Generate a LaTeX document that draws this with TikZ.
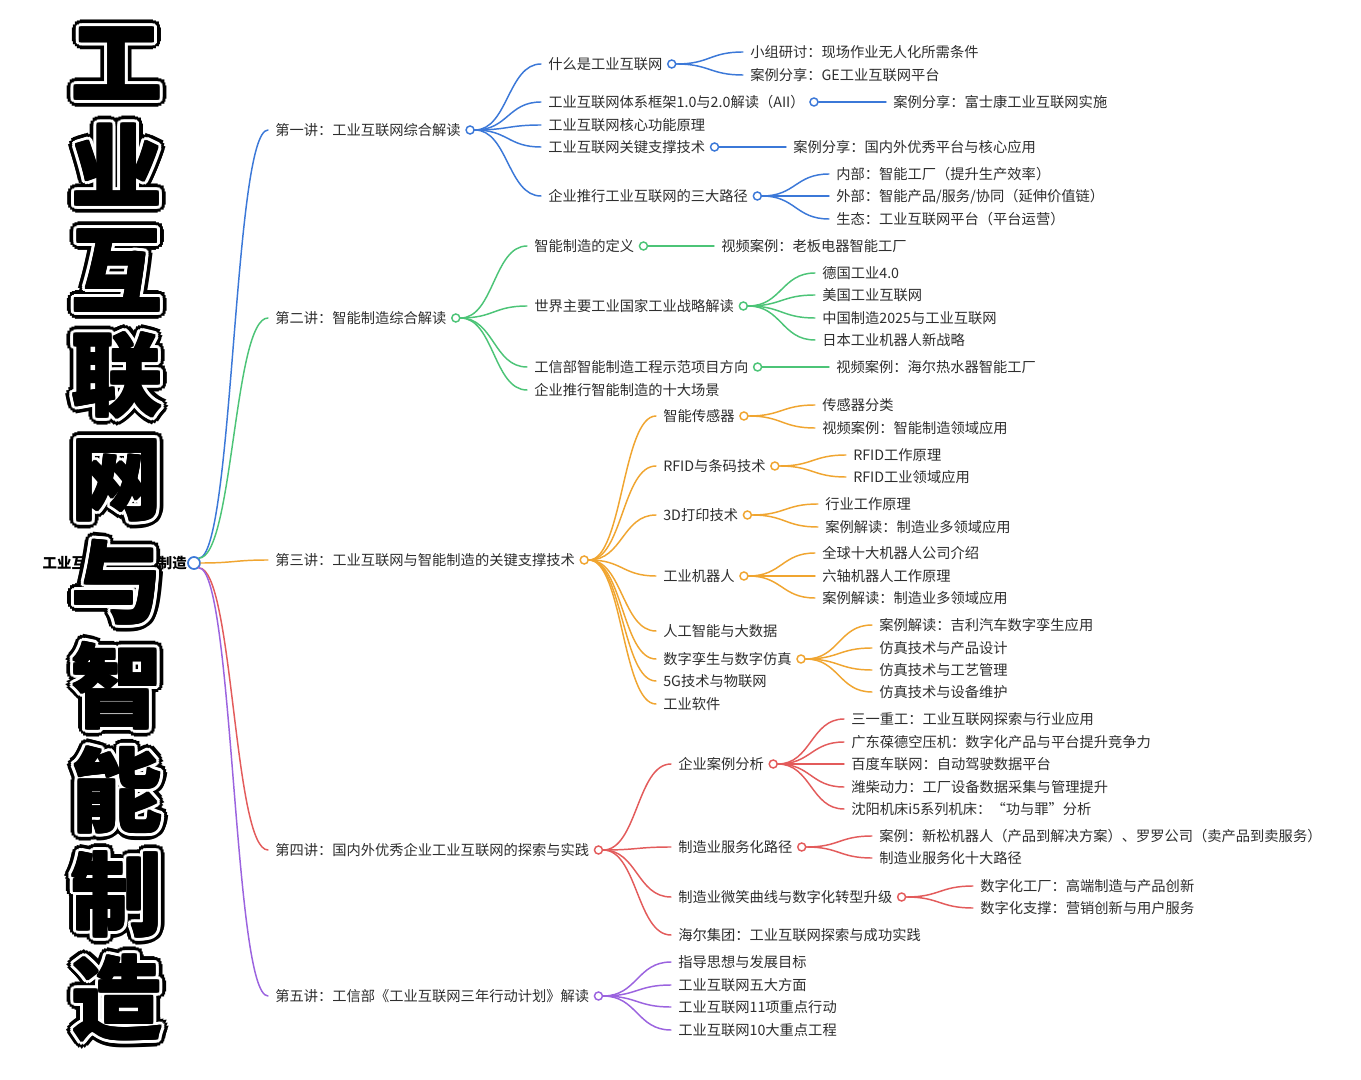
\documentclass[tikz,border=0pt]{standalone}
\usepackage{fontspec}
\usepackage{xcolor}
\usepackage{tikz}
\usetikzlibrary{calc,positioning}
\newfontfamily\cjk{Noto Sans CJK SC}
\definecolor{ink}{HTML}{2E2E2E}
\definecolor{cblue}{HTML}{3B78D8}
\definecolor{cgreen}{HTML}{4CC477}
\definecolor{corange}{HTML}{F0A530}
\definecolor{cred}{HTML}{E35B5B}
\definecolor{cpurple}{HTML}{9B63DF}
\tikzset{
  item/.style={anchor=west, inner xsep=5.25pt, inner ysep=0pt, text=ink,
    text height=9.4pt, text depth=1.3pt, font=\cjk\fontsize{10.7pt}{12pt}\selectfont},
  rootlab/.style={item, anchor=east, inner xsep=0pt, text=black,
    font=\cjk\bfseries\fontsize{10.8pt}{12pt}\selectfont},
  ring/.style={circle, draw=#1, fill=white, line width=1.1pt, minimum size=6pt, inner sep=0pt},
  link/.style={draw=#1, line width=1.1pt, line cap=round,
    to path={let \p1=(\tikztostart), \p2=(\tikztotarget) in
      .. controls ($(\p1)!0.5!(\x2,\y1)$) and ($(\p2)!0.5!(\x1,\y2)$) .. (\p2)}},
  title/.style={inner sep=0pt, text height=59.8pt, text depth=8.2pt,
    font=\cjk\bfseries\fontsize{68pt}{70pt}\selectfont},
}

\begin{document}
\begin{tikzpicture}[x=0.75pt, y=-0.75pt]
  \useasboundingbox (0,0) rectangle (1361,1080);
  \fill[white] (0,0) rectangle (1361,1080);

  % root
  \node[rootlab] (root) at (187,563) {工业互联网与智能制造};
  \node[ring=cblue, minimum size=9pt, line width=1.3pt] (rooto) at (194,563) {};

  % lectures
  \node[item] (k1) at (268,130) {第一讲：工业互联网综合解读};
  \node[item] (k2) at (268,318) {第二讲：智能制造综合解读};
  \node[item] (k3) at (268,560) {第三讲：工业互联网与智能制造的关键支撑技术};
  \node[item] (k4) at (268,850) {第四讲：国内外优秀企业工业互联网的探索与实践};
  \node[item] (k5) at (268,996) {第五讲：工信部《工业互联网三年行动计划》解读};
  \node[ring=cblue, right=-2pt of k1] (k1o) {};
  \node[ring=cgreen, right=-2pt of k2] (k2o) {};
  \node[ring=corange, right=-2pt of k3] (k3o) {};
  \node[ring=cred, right=-2pt of k4] (k4o) {};
  \node[ring=cpurple, right=-2pt of k5] (k5o) {};

  \draw[link=cblue] (rooto.north east) to (k1.west);
  \draw[link=cgreen] (rooto.north east) to (k2.west);
  \draw[link=corange] (rooto.east) to (k3.west);
  \draw[link=cred] (rooto.south east) to (k4.west);
  \draw[link=cpurple] (rooto.south east) to (k5.west);

  % branch 1
  \node[item] (b1a) at (541,64) {什么是工业互联网};
  \node[item] (b1b) at (541,102) {工业互联网体系框架1.0与2.0解读（AII）};
  \node[item] (b1c) at (541,125) {工业互联网核心功能原理};
  \node[item] (b1d) at (541,147) {工业互联网关键支撑技术};
  \node[item] (b1e) at (541,196) {企业推行工业互联网的三大路径};
  \node[ring=cblue, right=-2pt of b1a] (b1ao) {};
  \node[ring=cblue, right=-2pt of b1b] (b1bo) {};
  \node[ring=cblue, right=-2pt of b1d] (b1do) {};
  \node[ring=cblue, right=-2pt of b1e] (b1eo) {};
  \node[item] (b1a1) at (743,52) {小组研讨：现场作业无人化所需条件};
  \node[item] (b1a2) at (743,75) {案例分享：GE工业互联网平台};
  \node[item] (b1b1) at (886,102) {案例分享：富士康工业互联网实施};
  \node[item] (b1d1) at (786,147) {案例分享：国内外优秀平台与核心应用};
  \node[item] (b1e1) at (829,174) {内部：智能工厂（提升生产效率）};
  \node[item] (b1e2) at (829,196) {外部：智能产品/服务/协同（延伸价值链）};
  \node[item] (b1e3) at (829,219) {生态：工业互联网平台（平台运营）};
  \foreach \c in {b1a,b1b,b1c,b1d,b1e}
    \draw[link=cblue] (k1o.east) to (\c.west);
  \draw[link=cblue] (b1ao.east) to (b1a1.west);
  \draw[link=cblue] (b1ao.east) to (b1a2.west);
  \draw[link=cblue] (b1bo.east) to (b1b1.west);
  \draw[link=cblue] (b1do.east) to (b1d1.west);
  \foreach \c in {b1e1,b1e2,b1e3}
    \draw[link=cblue] (b1eo.east) to (\c.west);

  % branch 2
  \node[item] (b2a) at (527,246) {智能制造的定义};
  \node[item] (b2b) at (527,306) {世界主要工业国家工业战略解读};
  \node[item] (b2c) at (527,367) {工信部智能制造工程示范项目方向};
  \node[item] (b2d) at (527,390) {企业推行智能制造的十大场景};
  \node[ring=cgreen, right=-2pt of b2a] (b2ao) {};
  \node[ring=cgreen, right=-2pt of b2b] (b2bo) {};
  \node[ring=cgreen, right=-2pt of b2c] (b2co) {};
  \node[item] (b2a1) at (714,246) {视频案例：老板电器智能工厂};
  \node[item] (b2b1) at (815,273) {德国工业4.0};
  \node[item] (b2b2) at (815,295) {美国工业互联网};
  \node[item] (b2b3) at (815,318) {中国制造2025与工业互联网};
  \node[item] (b2b4) at (815,340) {日本工业机器人新战略};
  \node[item] (b2c1) at (829,367) {视频案例：海尔热水器智能工厂};
  \foreach \c in {b2a,b2b,b2c,b2d}
    \draw[link=cgreen] (k2o.east) to (\c.west);
  \draw[link=cgreen] (b2ao.east) to (b2a1.west);
  \foreach \c in {b2b1,b2b2,b2b3,b2b4}
    \draw[link=cgreen] (b2bo.east) to (\c.west);
  \draw[link=cgreen] (b2co.east) to (b2c1.west);

  % branch 3
  \node[item] (b3a) at (656,416) {智能传感器};
  \node[item] (b3b) at (656,466) {RFID与条码技术};
  \node[item] (b3c) at (656,515) {3D打印技术};
  \node[item] (b3d) at (656,576) {工业机器人};
  \node[item] (b3e) at (656,631) {人工智能与大数据};
  \node[item] (b3f) at (656,659) {数字孪生与数字仿真};
  \node[item] (b3g) at (656,681) {5G技术与物联网};
  \node[item] (b3h) at (656,704) {工业软件};
  \node[ring=corange, right=-2pt of b3a] (b3ao) {};
  \node[ring=corange, right=-2pt of b3b] (b3bo) {};
  \node[ring=corange, right=-2pt of b3c] (b3co) {};
  \node[ring=corange, right=-2pt of b3d] (b3do) {};
  \node[ring=corange, right=-2pt of b3f] (b3fo) {};
  \node[item] (b3a1) at (815,405) {传感器分类};
  \node[item] (b3a2) at (815,428) {视频案例：智能制造领域应用};
  \node[item] (b3b1) at (846,455) {RFID工作原理};
  \node[item] (b3b2) at (846,477) {RFID工业领域应用};
  \node[item] (b3c1) at (818,504) {行业工作原理};
  \node[item] (b3c2) at (818,527) {案例解读：制造业多领域应用};
  \node[item] (b3d1) at (815,553) {全球十大机器人公司介绍};
  \node[item] (b3d2) at (815,576) {六轴机器人工作原理};
  \node[item] (b3d3) at (815,598) {案例解读：制造业多领域应用};
  \node[item] (b3f1) at (872,625) {案例解读：吉利汽车数字孪生应用};
  \node[item] (b3f2) at (872,648) {仿真技术与产品设计};
  \node[item] (b3f3) at (872,670) {仿真技术与工艺管理};
  \node[item] (b3f4) at (872,692) {仿真技术与设备维护};
  \foreach \c in {b3a,b3b,b3c,b3d,b3e,b3f,b3g,b3h}
    \draw[link=corange] (k3o.east) to (\c.west);
  \foreach \p/\c in {b3a/b3a1,b3a/b3a2,b3b/b3b1,b3b/b3b2,b3c/b3c1,b3c/b3c2,
      b3d/b3d1,b3d/b3d2,b3d/b3d3,b3f/b3f1,b3f/b3f2,b3f/b3f3,b3f/b3f4}
    \draw[link=corange] (\p o.east) to (\c.west);

  % branch 4
  \node[item] (b4a) at (671,764) {企业案例分析};
  \node[item] (b4b) at (671,847) {制造业服务化路径};
  \node[item] (b4c) at (671,897) {制造业微笑曲线与数字化转型升级};
  \node[item] (b4d) at (671,935) {海尔集团：工业互联网探索与成功实践};
  \node[ring=cred, right=-2pt of b4a] (b4ao) {};
  \node[ring=cred, right=-2pt of b4b] (b4bo) {};
  \node[ring=cred, right=-2pt of b4c] (b4co) {};
  \node[item] (b4a1) at (844,719) {三一重工：工业互联网探索与行业应用};
  \node[item] (b4a2) at (844,742) {广东葆德空压机：数字化产品与平台提升竞争力};
  \node[item] (b4a3) at (844,764) {百度车联网：自动驾驶数据平台};
  \node[item] (b4a4) at (844,787) {潍柴动力：工厂设备数据采集与管理提升};
  \node[item] (b4a5) at (844,809) {沈阳机床i5系列机床：“功与罪”分析};
  \node[item] (b4b1) at (872,836) {案例：新松机器人（产品到解决方案）、罗罗公司（卖产品到卖服务）};
  \node[item] (b4b2) at (872,858) {制造业服务化十大路径};
  \node[item] (b4c1) at (973,886) {数字化工厂：高端制造与产品创新};
  \node[item] (b4c2) at (973,908) {数字化支撑：营销创新与用户服务};
  \foreach \c in {b4a,b4b,b4c,b4d}
    \draw[link=cred] (k4o.east) to (\c.west);
  \foreach \p/\c in {b4a/b4a1,b4a/b4a2,b4a/b4a3,b4a/b4a4,b4a/b4a5,
      b4b/b4b1,b4b/b4b2,b4c/b4c1,b4c/b4c2}
    \draw[link=cred] (\p o.east) to (\c.west);

  % branch 5
  \node[item] (b5a) at (671,962) {指导思想与发展目标};
  \node[item] (b5b) at (671,985) {工业互联网五大方面};
  \node[item] (b5c) at (671,1007) {工业互联网11项重点行动};
  \node[item] (b5d) at (671,1030) {工业互联网10大重点工程};
  \foreach \c in {b5a,b5b,b5c,b5d}
    \draw[link=cpurple] (k5o.east) to (\c.west);

  % big title, black with white and black outline
  \foreach \ch [count=\i] in {工,业,互,联,网,与,智,能,制,造}{
    \coordinate (t\i) at (117,{62+104*(\i-1)});
    \foreach \a in {0,22.5,...,337.5}
      \node[title, text=black] at ($(t\i)+(\a:5.9pt)$) {\ch};
    \foreach \a in {0,22.5,...,337.5}
      \node[title, text=white] at ($(t\i)+(\a:3.2pt)$) {\ch};
    \foreach \a in {0,45,...,315}
      \node[title, text=black] at ($(t\i)+(\a:0.9pt)$) {\ch};
  }
\end{tikzpicture}
\end{document}
